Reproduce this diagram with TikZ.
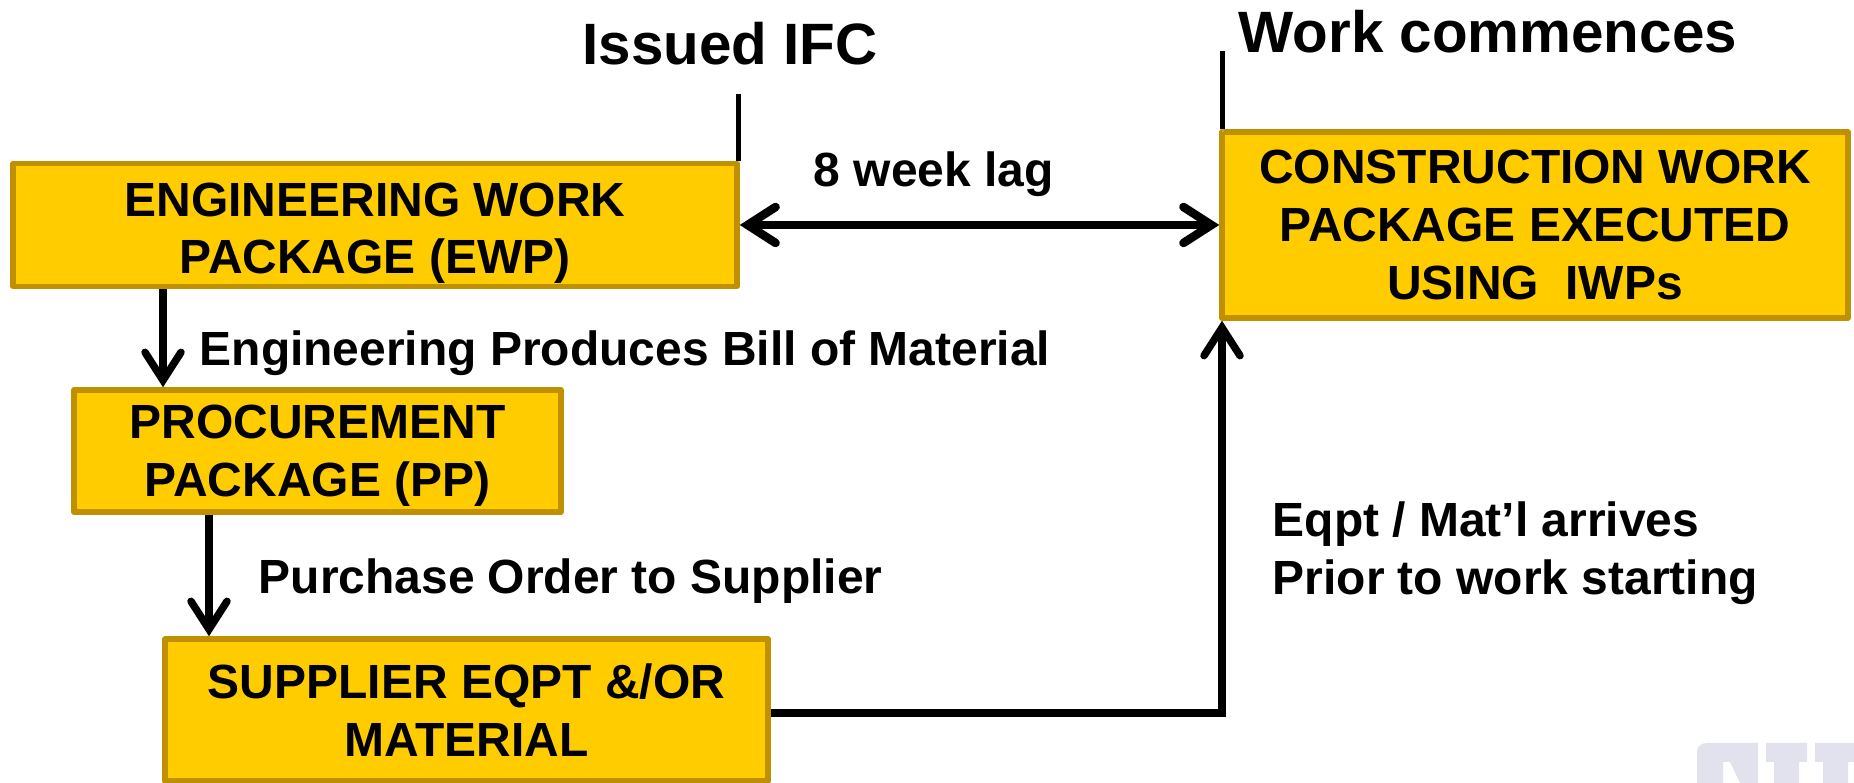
\documentclass[tikz,border=0pt]{standalone}
\usepackage{fontspec}
\setmainfont{Liberation Sans}
\usetikzlibrary{arrows.meta}
\definecolor{pkgfill}{HTML}{FFCC00}
\definecolor{pkgedge}{HTML}{BF9000}
\definecolor{logotint}{HTML}{E1E2EE}
\tikzset{
  pkgbox/.style={draw=pkgedge,fill=pkgfill,line width=0.055cm,line join=round,inner sep=0,align=center,font=\fontsize{13.65}{16.4}\selectfont\bfseries},
  biglabel/.style={anchor=base west,inner sep=0,font=\fontsize{16.6}{20}\selectfont\bfseries},
  sidelabel/.style={anchor=base west,inner sep=0,font=\fontsize{13.65}{16.6}\selectfont\bfseries},
  softshadow/.style={preaction={draw=black!30,opacity=0.6,transform canvas={xshift=0.008cm,yshift=-0.025cm}}},
  barb/.tip={Straight Barb[length=0.28cm,width=0.36cm,line cap=round,line join=miter]},
  flowline/.style={softshadow,line width=0.075cm,-barb},
  tickline/.style={softshadow,line width=0.05cm}
}
\begin{document}
\begin{tikzpicture}
\useasboundingbox (0,0) rectangle (18.54,7.83);
\node [pkgbox,minimum width=7.24cm,minimum height=1.23cm] (ewp) at (3.75,5.58) {\rule{0pt}{11.3pt}ENGINEERING WORK\\\smash{PACKAGE (EWP)}};
\node [pkgbox,minimum width=4.87cm,minimum height=1.22cm] (pp) at (3.175,3.32) {PROCUREMENT\\\smash{PACKAGE (PP)}};
\node [pkgbox,minimum width=6.03cm,minimum height=1.42cm] (supplier) at (4.665,0.73) {SUPPLIER EQPT \&/OR\\MATERIAL};
\node [pkgbox,minimum width=6.26cm,minimum height=1.86cm] (cwp) at (15.35,5.58) {CONSTRUCTION WORK\\PACKAGE EXECUTED\\USING\ \ IWPs};
\node [biglabel] (ifc) at (5.82,7.18) {Issued IFC};
\node [biglabel] (commence) at (12.38,7.30) {Work commences};
\node [sidelabel] (lag) at (8.13,5.96) {8 week lag};
\node [sidelabel] (bom) at (1.99,4.17) {Engineering Produces Bill of Material};
\node [sidelabel] (po) at (2.58,1.89) {Purchase Order to Supplier};
\node [sidelabel,align=left] (arrives) at (12.72,1.88) {Eqpt / Mat’l arrives\\Prior to work starting};
\coordinate (ifctick) at (7.38,6.89);
\coordinate (worktick) at (12.22,7.32);
\coordinate (ewpdrop) at (1.63,3);
\coordinate (ppdrop) at (2.09,3);
\coordinate (supplierexit) at (8,0.70);
\draw [tickline] (ifctick) -- (ifctick |- ewp.north);
\draw [tickline] (worktick) -- (worktick |- cwp.north);
\draw [flowline,line width=0.085cm,barb-barb] (ewp) -- (cwp);
\draw [flowline] (ewpdrop |- ewp.south) -- (ewpdrop |- pp.north);
\draw [flowline] (ppdrop |- pp.south) -- (ppdrop |- supplier.north);
\draw [flowline] (supplierexit -| supplier.east) -| (worktick |- cwp.south);
\fill [logotint] (16.97,0) -- (16.97,0.32) to [out=90,in=180] (17.07,0.40) -- (17.58,0.40) -- (17.58,0) -- (17.40,0) -- (17.30,0.21) -- (17.23,0.21) -- (17.23,0) -- cycle;
\fill [logotint] (17.66,0.40) -- (18.07,0.40) -- (18.07,0.21) -- (17.99,0.21) -- (17.99,0) -- (17.74,0) -- (17.74,0.21) -- (17.66,0.21) -- cycle;
\fill [logotint] (18.15,0.40) -- (18.54,0.40) -- (18.54,0.21) -- (18.48,0.21) -- (18.48,0) -- (18.23,0) -- (18.23,0.21) -- (18.15,0.21) -- cycle;
\end{tikzpicture}
\end{document}
